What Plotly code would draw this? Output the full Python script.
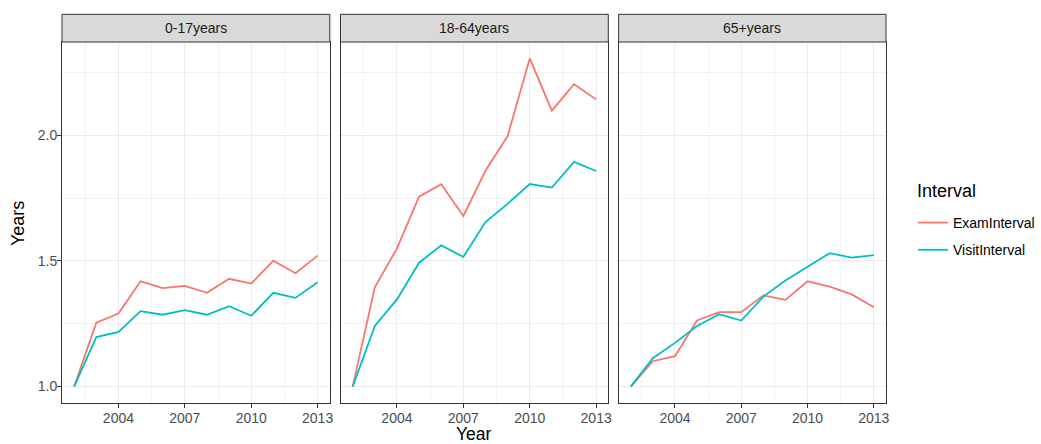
import plotly.graph_objects as go

# Interval length (years) by age group, 2002-2013
years = list(range(2002, 2014))
groups = ["0-17years", "18-64years", "65+years"]

exam_0_17 = [1.0, 1.254, 1.291, 1.419, 1.392, 1.401, 1.373, 1.429, 1.410, 1.501, 1.451, 1.521]
visit_0_17 = [1.0, 1.197, 1.218, 1.300, 1.286, 1.304, 1.286, 1.320, 1.282, 1.373, 1.353, 1.415]

exam_18_64 = [1.0, 1.395, 1.550, 1.756, 1.805, 1.679, 1.859, 1.997, 2.306, 2.098, 2.203, 2.143]
visit_18_64 = [1.0, 1.241, 1.347, 1.493, 1.562, 1.516, 1.655, 1.727, 1.806, 1.792, 1.894, 1.858]

exam_65 = [1.0, 1.101, 1.121, 1.263, 1.296, 1.296, 1.363, 1.345, 1.419, 1.398, 1.367, 1.316]
visit_65 = [1.0, 1.113, 1.174, 1.241, 1.288, 1.263, 1.358, 1.422, 1.477, 1.531, 1.513, 1.523]

exam_series = [exam_0_17, exam_18_64, exam_65]
visit_series = [visit_0_17, visit_18_64, visit_65]

x_ticks = [2004, 2007, 2010, 2013]
y_ticks = [1.0, 1.5, 2.0]
y_tick_text = ["1.0", "1.5", "2.0"]

EXAM_COLOR = "#F8766D"
VISIT_COLOR = "#00BFC4"
FONT = "Liberation Sans, Arial, sans-serif"

# shared scales with a 5% expansion like ggplot
all_vals = [v for s in exam_series + visit_series for v in s]
ymin, ymax = min(all_vals), max(all_vals)
ypad = (ymax - ymin) * 0.05
y_range = [ymin - ypad, ymax + ypad]
xpad = (years[-1] - years[0]) * 0.05
x_range = [years[0] - xpad, years[-1] + xpad]

# plot area in pixels: x 62..886, y 42..403
L, R, T, B = 62, 155, 42, 41
PW, PH = 1041 - L - R, 444 - T - B

domains = [[0.0, 0.325], [0.338, 0.663], [0.6755, 1.0]]
strip_h = 0.0767

fig = go.Figure()

for i, g in enumerate(groups):
    sfx = "" if i == 0 else str(i + 1)
    fig.add_trace(go.Scatter(
        x=years, y=exam_series[i], mode="lines",
        line=dict(color=EXAM_COLOR, width=1.8),
        name="ExamInterval", legendgroup="exam", showlegend=(i == 0),
        xaxis="x" + sfx, yaxis="y" + sfx,
    ))
    fig.add_trace(go.Scatter(
        x=years, y=visit_series[i], mode="lines",
        line=dict(color=VISIT_COLOR, width=1.8),
        name="VisitInterval", legendgroup="visit", showlegend=(i == 0),
        xaxis="x" + sfx, yaxis="y" + sfx,
    ))

axis_common = dict(
    showline=True, mirror=True, linecolor="#333333", linewidth=1,
    gridcolor="#EBEBEB", gridwidth=1.3,
    ticks="outside", ticklen=4, tickcolor="#333333", tickwidth=1,
    tickfont=dict(family=FONT, size=14, color="#4D4D4D"),
    zeroline=False, automargin=False,
)

layout = dict(
    width=1041, height=444,
    margin=dict(l=L, r=R, t=T, b=B, autoexpand=False),
    plot_bgcolor="white", paper_bgcolor="white",
    font=dict(family=FONT),
    legend=dict(
        font=dict(family=FONT, size=14, color="#000000"),
        x=(913 - L) / PW, xanchor="left",
        y=1 - (207 - T) / PH, yanchor="top",
        bgcolor="rgba(0,0,0,0)", tracegroupgap=6,
    ),
    shapes=[], annotations=[],
)

for i, g in enumerate(groups):
    sfx = "" if i == 0 else str(i + 1)
    xa = dict(axis_common)
    xa.update(domain=domains[i], range=x_range, tickvals=x_ticks,
              anchor="y" + sfx, ticklabelstandoff=-2)
    xa["minor"] = dict(showgrid=True, gridcolor="#F2F2F2", gridwidth=0.8,
                       tickvals=[2002.5, 2005.5, 2008.5, 2011.5])
    ya = dict(axis_common)
    ya.update(domain=[0, 1], range=y_range, tickvals=y_ticks,
              ticktext=y_tick_text, anchor="x" + sfx,
              showticklabels=(i == 0), ticklabelstandoff=-3)
    ya["minor"] = dict(showgrid=True, gridcolor="#F2F2F2", gridwidth=0.8,
                       tickvals=[1.25, 1.75, 2.25])
    if i > 0:
        ya["ticks"] = ""
    layout["xaxis" + sfx] = xa
    layout["yaxis" + sfx] = ya

    # facet strip
    layout["shapes"].append(dict(
        type="rect", xref="paper", yref="paper",
        x0=domains[i][0], x1=domains[i][1], y0=1.0, y1=1.0 + strip_h,
        fillcolor="#D9D9D9", line=dict(color="#333333", width=1), layer="above",
    ))
    layout["annotations"].append(dict(
        text=g, xref="paper", yref="paper",
        x=(domains[i][0] + domains[i][1]) / 2, y=1.0 + strip_h / 2,
        showarrow=False, xanchor="center", yanchor="middle",
        font=dict(family=FONT, size=14, color="#1A1A1A"),
    ))

# axis titles and legend title
layout["annotations"] += [
    dict(text="Year", xref="paper", yref="paper", x=0.5, y=-(434 - T - PH) / PH,
         showarrow=False, xanchor="center", yanchor="middle",
         font=dict(family=FONT, size=17.5, color="#000000")),
    dict(text="Years", xref="paper", yref="paper", x=-(L - 18) / PW, y=1 - (224 - T) / PH,
         showarrow=False, xanchor="center", yanchor="middle", textangle=-90,
         font=dict(family=FONT, size=18, color="#000000")),
    dict(text="Interval", xref="paper", yref="paper", x=(915 - L) / PW, y=1 - (191 - T) / PH,
         showarrow=False, xanchor="left", yanchor="middle",
         font=dict(family=FONT, size=18, color="#000000")),
]

fig.update_layout(**layout)
fig.write_html("out.html")
